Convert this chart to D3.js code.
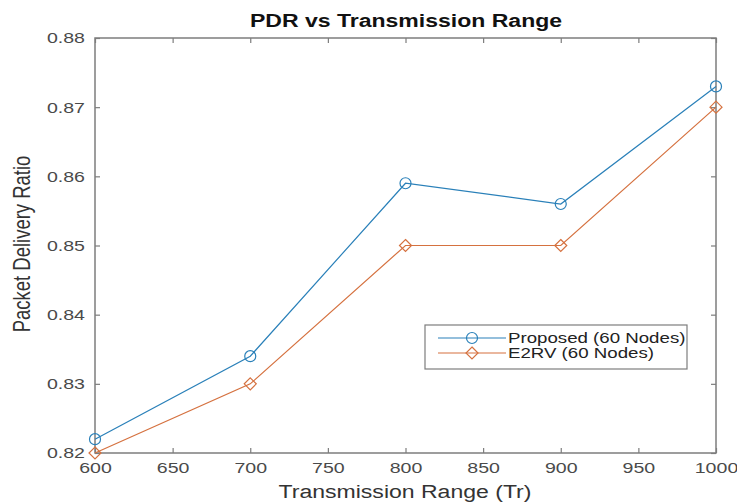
<!DOCTYPE html>
<html>
<head>
<meta charset="utf-8">
<script src="https://cdn.jsdelivr.net/npm/d3@7"></script>
<style>
  body { margin: 0; background: #fff; }
  svg { display: block; font-family: "Liberation Sans", Arial, Helvetica, sans-serif; }
</style>
</head>
<body>
<div id="chart"></div>
<script>
// data
var ranges = [600, 700, 800, 900, 1000];
var proposed = [0.822, 0.834, 0.859, 0.856, 0.873];
var e2rv = [0.820, 0.830, 0.850, 0.850, 0.870];
var xTicks = [600, 650, 700, 750, 800, 850, 900, 950, 1000];
var yTicks = [0.82, 0.83, 0.84, 0.85, 0.86, 0.87, 0.88];
var seriesNames = ['Proposed (60 Nodes)', 'E2RV (60 Nodes)'];

// constants
const WIDTH = 737, HEIGHT = 502;
const PLOT = {left: 95, right: 716, top: 38, bottom: 453};
const SX = 1.28;            // the picture is stretched sideways, text too
const BLUE = '#2a80b9', ORANGE = '#d5713f', AXIS = '#7d7d7d', TXT = '#4a4a4a';

var svg = d3.select('#chart').append('svg')
            .attr('width', WIDTH)
            .attr('height', HEIGHT);

var x = d3.scaleLinear().domain([600, 1000]).range([PLOT.left, PLOT.right]);
var y = d3.scaleLinear().domain([0.82, 0.88]).range([PLOT.bottom, PLOT.top]);

// ticks on all four sides, pointing inward
function styleAxis(g) {
  g.select('.domain').remove();
  g.selectAll('.tick line').attr('stroke', AXIS).attr('stroke-width', 1.2);
}

svg.append('g')
   .attr('transform', 'translate(0,' + PLOT.bottom + ')')
   .call(d3.axisBottom(x).tickValues(xTicks).tickSize(-5).tickPadding(9).tickFormat(d3.format('d')))
   .call(styleAxis)
   .selectAll('text')
   .attr('fill', TXT).attr('font-size', 15.3)
   .attr('transform', 'scale(' + SX + ',1)');

svg.append('g')
   .attr('transform', 'translate(0,' + PLOT.top + ')')
   .call(d3.axisTop(x).tickValues(xTicks).tickSize(-5).tickFormat(''))
   .call(styleAxis);

svg.append('g')
   .attr('transform', 'translate(' + PLOT.left + ',0)')
   .call(d3.axisLeft(y).tickValues(yTicks).tickSize(-5).tickFormat(d3.format('.2f')))
   .call(styleAxis)
   .selectAll('text')
   .attr('fill', TXT).attr('font-size', 15.3)
   .attr('x', -10 / SX)
   .attr('transform', 'scale(' + SX + ',1)');

svg.append('g')
   .attr('transform', 'translate(' + PLOT.right + ',0)')
   .call(d3.axisRight(y).tickValues(yTicks).tickSize(-5).tickFormat(''))
   .call(styleAxis);

// axes box
svg.append('rect')
   .attr('x', PLOT.left).attr('y', PLOT.top)
   .attr('width', PLOT.right - PLOT.left)
   .attr('height', PLOT.bottom - PLOT.top)
   .attr('fill', 'none')
   .attr('stroke', AXIS)
   .attr('stroke-width', 1.5);

// series
var series = [
  {name: seriesNames[0], values: proposed, color: BLUE, marker: 'circle'},
  {name: seriesNames[1], values: e2rv, color: ORANGE, marker: 'diamond'}
];

var line = d3.line()
             .x((d, i) => x(ranges[i]))
             .y(d => y(d));

function drawMarker(g, kind, color) {
  if (kind === 'circle') {
    g.append('circle').attr('r', 5.5)
     .attr('fill', 'none').attr('stroke', color).attr('stroke-width', 1.2);
  } else {
    g.append('path').attr('d', 'M0,-6L6,0L0,6L-6,0Z')
     .attr('fill', 'none').attr('stroke', color).attr('stroke-width', 1.2);
  }
}

series.forEach(function (s) {
  svg.append('path')
     .datum(s.values)
     .attr('d', line)
     .attr('fill', 'none')
     .attr('stroke', s.color)
     .attr('stroke-width', 1.2);

  svg.selectAll(null).data(s.values)
     .enter()
     .append('g')
     .attr('transform', (d, i) => 'translate(' + x(ranges[i]) + ',' + y(d) + ')')
     .each(function () { drawMarker(d3.select(this), s.marker, s.color); });
});

// title and labels
svg.append('text')
   .attr('transform', 'translate(406,27) scale(' + SX + ',1)')
   .attr('text-anchor', 'middle')
   .attr('font-size', 18).attr('font-weight', 'bold').attr('fill', '#111')
   .text('PDR vs Transmission Range');

svg.append('text')
   .attr('transform', 'translate(405,498) scale(' + SX + ',1)')
   .attr('text-anchor', 'middle')
   .attr('font-size', 18).attr('fill', '#333')
   .text('Transmission Range (Tr)');

svg.append('text')
   .attr('transform', 'translate(30,244) scale(' + SX + ',1) rotate(-90)')
   .attr('text-anchor', 'middle')
   .attr('font-size', 18.5).attr('fill', '#333')
   .text('Packet Delivery Ratio');

// legend
var legend = svg.append('g').attr('transform', 'translate(425,325)');
legend.append('rect')
      .attr('width', 262).attr('height', 44)
      .attr('fill', '#fff')
      .attr('stroke', AXIS).attr('stroke-width', 1.2);

var rows = legend.selectAll('g.row').data(series)
                 .enter()
                 .append('g')
                 .classed('row', true)
                 .attr('transform', (d, i) => 'translate(0,' + (13 + i * 15) + ')');

rows.append('line')
    .attr('x1', 13).attr('x2', 81)
    .attr('stroke', d => d.color).attr('stroke-width', 1.2);

rows.append('g')
    .attr('transform', 'translate(47,0)')
    .each(function (d) { drawMarker(d3.select(this), d.marker, d.color); });

rows.append('text')
    .attr('transform', 'translate(83,0) scale(' + SX + ',1)')
    .attr('dy', '0.36em')
    .attr('font-size', 14.6).attr('fill', '#222')
    .text(d => d.name);
</script>
</body>
</html>
